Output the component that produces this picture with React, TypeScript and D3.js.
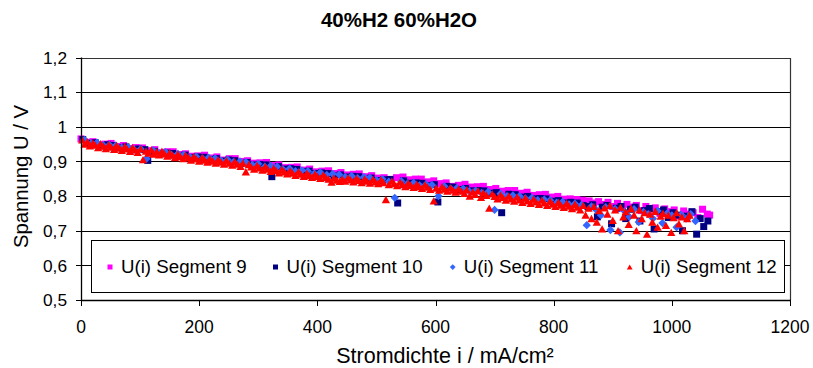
import React from 'react';
import * as d3 from 'd3';

// Chart texts and axis ticks
const chartTitle = '40%H2 60%H2O';
const xTitle = 'Stromdichte i / mA/cm²';
const yTitle = 'Spannung U / V';
const xTicks = [0, 200, 400, 600, 800, 1000, 1200];
const yTicks = [0.5, 0.6, 0.7, 0.8, 0.9, 1.0, 1.1, 1.2];
const seriesNames = ['U(i) Segment 9', 'U(i) Segment 10', 'U(i) Segment 11', 'U(i) Segment 12'];

// Measured points: [current density mA/cm², cell voltage V]
const seg9: [number, number][] = [
  [0, .965], [10, .955], [20, .957], [31, .948], [41, .950], [51, .952], [62, .943], [72, .946], [83, .937], [93, .940],
  [104, .939], [114, .931], [125, .934], [135, .925], [146, .928], [156, .928], [167, .920], [177, .922], [188, .915], [198, .916],
  [209, .918], [219, .910], [230, .913], [240, .904], [251, .908], [261, .908], [272, .900], [282, .902], [293, .895], [303, .896],
  [314, .897], [324, .888], [335, .890], [345, .882], [356, .883], [366, .884], [377, .875], [387, .878], [398, .870], [408, .872],
  [419, .873], [429, .865], [440, .868], [450, .861], [461, .863], [471, .864], [482, .856], [492, .859], [503, .852], [513, .853],
  [524, .848], [534, .853], [545, .855], [555, .847], [566, .849], [576, .849], [587, .841], [597, .844], [608, .836], [618, .838],
  [629, .828], [639, .831], [650, .834], [660, .826], [671, .827], [681, .828], [692, .819], [702, .822], [713, .814], [723, .816],
  [734, .816], [744, .808], [755, .811], [765, .802], [776, .804], [786, .805], [797, .797], [807, .799], [818, .791], [828, .792],
  [839, .790], [849, .788], [860, .786], [868, .780], [876, .784], [884, .776], [892, .782], [900, .770], [908, .779], [916, .765],
  [924, .776], [932, .768], [940, .773], [948, .758], [956, .770], [964, .762], [972, .766], [980, .750], [988, .763], [996, .755],
  [1004, .760], [1012, .742], [1020, .757], [1028, .748], [1036, .752], [1044, .738], [1052, .762], [1060, .748], [1064, .745],
];

const seg10: [number, number][] = [
  [3, .963], [13, .952], [24, .954], [34, .945], [45, .948], [55, .946], [66, .939], [76, .942], [87, .934], [97, .936],
  [108, .934], [113, .903], [124, .929], [134, .922], [145, .924], [155, .923], [166, .915], [176, .918], [187, .911], [197, .913],
  [208, .912], [218, .905], [229, .908], [239, .901], [250, .904], [260, .902], [271, .894], [281, .897], [292, .890], [302, .891],
  [313, .890], [323, .856], [334, .885], [344, .878], [355, .879], [365, .877], [376, .870], [386, .872], [397, .865], [407, .867],
  [418, .865], [428, .858], [439, .861], [449, .855], [460, .857], [470, .856], [481, .849], [491, .852], [502, .845], [512, .847],
  [523, .848], [536, .780], [546, .844], [556, .837], [567, .838], [577, .837], [588, .830], [598, .833], [604, .783], [619, .828],
  [630, .826], [640, .819], [651, .822], [661, .815], [672, .816], [682, .815], [693, .808], [703, .810], [712, .752], [724, .805],
  [735, .804], [745, .797], [756, .799], [766, .792], [777, .793], [787, .792], [798, .785], [808, .787], [819, .780], [829, .782],
  [840, .780], [850, .773], [858, .770], [866, .775], [874, .740], [882, .768], [890, .773], [898, .720], [906, .765], [914, .770],
  [922, .735], [930, .762], [938, .768], [946, .728], [954, .758], [962, .764], [970, .705], [978, .755], [986, .760], [994, .738],
  [1002, .752], [1010, .745], [1018, .700], [1026, .742], [1034, .755], [1042, .690], [1048, .735], [1054, .712], [1061, .728],
];

const seg11: [number, number][] = [
  [6, .962], [17, .952], [27, .954], [38, .946], [48, .948], [59, .946], [69, .939], [80, .941], [90, .934], [101, .936],
  [111, .908], [122, .932], [132, .924], [143, .927], [153, .919], [164, .922], [174, .919], [185, .912], [195, .914], [206, .908],
  [216, .911], [227, .909], [237, .902], [248, .905], [258, .898], [269, .900], [279, .898], [290, .890], [300, .893], [311, .885],
  [321, .887], [332, .885], [342, .877], [353, .879], [363, .872], [374, .874], [384, .872], [395, .865], [405, .868], [416, .861],
  [426, .864], [437, .862], [447, .855], [458, .858], [468, .852], [479, .855], [489, .853], [500, .846], [510, .849], [521, .842],
  [531, .795], [542, .843], [552, .835], [563, .838], [573, .831], [584, .834], [594, .832], [605, .800], [615, .828], [626, .821],
  [636, .823], [647, .821], [657, .814], [668, .816], [678, .809], [689, .812], [700, .760], [710, .807], [721, .800], [731, .802],
  [742, .800], [752, .793], [763, .795], [773, .788], [784, .790], [794, .788], [805, .781], [815, .783], [826, .776], [836, .778],
  [847, .774], [856, .716], [864, .770], [872, .760], [880, .745], [888, .768], [896, .702], [904, .763], [912, .695], [920, .756],
  [928, .740], [936, .762], [944, .725], [952, .754], [960, .748], [968, .735], [976, .757], [984, .722], [992, .750], [1000, .744],
  [1008, .710], [1016, .746], [1024, .735], [1032, .748], [1040, .728],
];

const seg12: [number, number][] = [
  [2, .962], [6, .950], [11, .957], [15, .945], [20, .953], [24, .947], [29, .940], [33, .951], [38, .944], [42, .937],
  [47, .948], [51, .941], [56, .935], [60, .946], [65, .939], [69, .932], [74, .943], [78, .936], [83, .929], [87, .940],
  [92, .933], [96, .926], [101, .936], [105, .905], [110, .930], [114, .924], [119, .933], [123, .921], [128, .928], [132, .919],
  [137, .929], [141, .922], [146, .915], [150, .925], [155, .918], [159, .911], [164, .921], [168, .914], [173, .908], [177, .918],
  [182, .911], [186, .904], [191, .914], [195, .907], [200, .901], [205, .911], [209, .904], [214, .898], [218, .908], [223, .901],
  [228, .895], [232, .905], [237, .898], [242, .892], [246, .902], [251, .895], [256, .889], [260, .899], [265, .892], [270, .886],
  [274, .895], [279, .870], [284, .891], [288, .884], [293, .878], [298, .888], [302, .881], [307, .875], [312, .885], [316, .878],
  [321, .871], [326, .880], [330, .874], [335, .867], [340, .877], [344, .870], [349, .864], [354, .873], [358, .866], [363, .860],
  [368, .870], [372, .863], [377, .857], [382, .866], [386, .860], [391, .854], [396, .863], [400, .857], [405, .851], [410, .861],
  [414, .854], [419, .849], [424, .840], [428, .852], [433, .846], [438, .842], [442, .849], [447, .843], [452, .853], [456, .847],
  [461, .841], [466, .851], [470, .845], [475, .839], [480, .849], [484, .843], [489, .837], [494, .848], [498, .841], [503, .836],
  [508, .846], [512, .839], [516, .790], [521, .833], [526, .843], [530, .836], [535, .830], [540, .840], [544, .833], [549, .827],
  [554, .837], [558, .831], [563, .825], [568, .834], [572, .828], [577, .822], [582, .832], [586, .826], [591, .819], [597, .786],
  [601, .823], [606, .817], [611, .827], [615, .820], [620, .814], [625, .824], [630, .817], [634, .811], [639, .821], [644, .814],
  [649, .808], [653, .818], [658, .800], [663, .812], [667, .805], [672, .815], [677, .796], [681, .809], [686, .802], [691, .765],
  [696, .806], [700, .799], [705, .792], [710, .803], [714, .796], [719, .788], [724, .800], [728, .792], [733, .785], [738, .797],
  [742, .789], [747, .782], [752, .794], [756, .786], [761, .779], [766, .791], [770, .783], [775, .776], [780, .788], [784, .780],
  [789, .773], [794, .785], [798, .777], [803, .770], [808, .782], [812, .774], [817, .767], [822, .779], [826, .771], [831, .764],
  [836, .776], [840, .768], [845, .760], [850, .773], [854, .745], [859, .765], [864, .735], [868, .770], [873, .725], [877, .758],
  [882, .705], [886, .766], [891, .748], [895, .772], [900, .730], [904, .760], [909, .700], [913, .768], [918, .740], [922, .755],
  [927, .718], [931, .764], [936, .745], [940, .700], [945, .760], [949, .735], [954, .752], [958, .690], [963, .748], [967, .725],
  [972, .756], [976, .710], [981, .742], [985, .750], [990, .715], [994, .745], [999, .695], [1003, .738], [1008, .752], [1012, .720],
  [1017, .740], [1021, .700], [1026, .735], [1030, .745],
];

type Shape = 'square' | 'diamond' | 'triangle';

const series: { name: string; data: [number, number][]; color: string; shape: Shape }[] = [
  { name: seriesNames[0], data: seg9, color: '#FF00FF', shape: 'square' },
  { name: seriesNames[1], data: seg10, color: '#000080', shape: 'square' },
  { name: seriesNames[2], data: seg11, color: '#3366FF', shape: 'diamond' },
  { name: seriesNames[3], data: seg12, color: '#FF0000', shape: 'triangle' },
];

const W = 813;
const H = 368;
const plot = { left: 81, right: 790, top: 57.5, bottom: 300 };
const font = "'Liberation Sans', Arial, Helvetica, sans-serif";

function markerPath(shape: Shape, cx: number, cy: number, s: number): string {
  const h = s / 2;
  if (shape === 'square') {
    return `M${cx - h},${cy - h}h${s}v${s}h${-s}Z`;
  }
  if (shape === 'diamond') {
    const d = h * 1.15;
    return `M${cx},${cy - d}L${cx + d},${cy}L${cx},${cy + d}L${cx - d},${cy}Z`;
  }
  const tw = s * 1.15;
  return `M${cx},${cy - h * 1.05}L${cx + tw / 2},${cy + h}L${cx - tw / 2},${cy + h}Z`;
}

const fmt = (v: number) => String(Math.round(v * 10) / 10).replace('.', ',');

export default function App() {
  const x = d3.scaleLinear().domain([0, 1200]).range([plot.left, plot.right]);
  const y = d3.scaleLinear().domain([0.5, 1.2]).range([plot.bottom, plot.top]);

  const legendItemX = [110, 275.5, 452.7, 629.7];
  const legendY = 267;

  return (
    <svg
      width={W}
      height={H}
      viewBox={`0 0 ${W} ${H}`}
      style={{ position: 'absolute', left: 0, top: 0, background: '#fff' }}
      fontFamily={font}
    >
      <rect x={0} y={0} width={W} height={H} fill="#fff" />

      {/* title */}
      <text x={399} y={27} textAnchor="middle" fontSize={20.5} fontWeight="bold" fill="#000">
        {chartTitle}
      </text>

      {/* horizontal gridlines */}
      {yTicks.slice(1, -1).map((t) => (
        <line
          key={`g${t}`}
          x1={plot.left}
          x2={plot.right}
          y1={Math.round(y(t)) + 0.5}
          y2={Math.round(y(t)) + 0.5}
          stroke="#000"
          strokeWidth={1}
          shapeRendering="crispEdges"
        />
      ))}

      {/* plot frame: top and right */}
      <path
        d={`M${plot.left},${Math.round(plot.top) + 0.5}H${Math.round(plot.right) + 0.5}V${plot.bottom}`}
        fill="none"
        stroke="#333"
        strokeWidth={1.2}
      />

      {/* series markers */}
      {series.map((s) => (
        <g key={s.name} fill={s.color}>
          {s.data.map(([i, u], k) => (
            <path key={k} d={markerPath(s.shape, x(i), y(u), s.shape === 'square' ? 7 : 7.2)} />
          ))}
        </g>
      ))}

      {/* y axis */}
      <line x1={plot.left + 0.5} x2={plot.left + 0.5} y1={plot.top} y2={plot.bottom + 0.5} stroke="#000" strokeWidth={1.3} />
      {yTicks.map((t) => (
        <g key={`y${t}`}>
          <line
            x1={plot.left - 5}
            x2={plot.left}
            y1={Math.round(y(t)) + 0.5}
            y2={Math.round(y(t)) + 0.5}
            stroke="#000"
            shapeRendering="crispEdges"
          />
          <text x={67} y={y(t) + 6.2} textAnchor="end" fontSize={17.3} fill="#000">
            {fmt(t)}
          </text>
        </g>
      ))}

      {/* x axis */}
      <line x1={plot.left} x2={plot.right + 1} y1={plot.bottom + 0.5} y2={plot.bottom + 0.5} stroke="#000" strokeWidth={1.3} />
      {xTicks.map((t) => (
        <g key={`x${t}`}>
          <line
            x1={Math.round(x(t)) + 0.5}
            x2={Math.round(x(t)) + 0.5}
            y1={plot.bottom}
            y2={plot.bottom + 6}
            stroke="#000"
            shapeRendering="crispEdges"
          />
          <text x={x(t)} y={333} textAnchor="middle" fontSize={17.5} fill="#000">
            {t}
          </text>
        </g>
      ))}

      {/* axis titles */}
      <text x={445} y={363} textAnchor="middle" fontSize={21.5} fill="#000">
        {xTitle}
      </text>
      <text
        transform={`translate(28,176.5) rotate(-90)`}
        textAnchor="middle"
        fontSize={20.3}
        fill="#000"
      >
        {yTitle}
      </text>

      {/* legend */}
      <rect x={91.5} y={240.5} width={693} height={52} fill="#fff" stroke="#000" strokeWidth={1} />
      {series.map((s, k) => (
        <g key={`l${s.name}`}>
          <path d={markerPath(s.shape, legendItemX[k], legendY, 5)} fill={s.color} />
          <text x={legendItemX[k] + 11} y={272.7} fontSize={18.7} fill="#000">
            {s.name}
          </text>
        </g>
      ))}
    </svg>
  );
}
